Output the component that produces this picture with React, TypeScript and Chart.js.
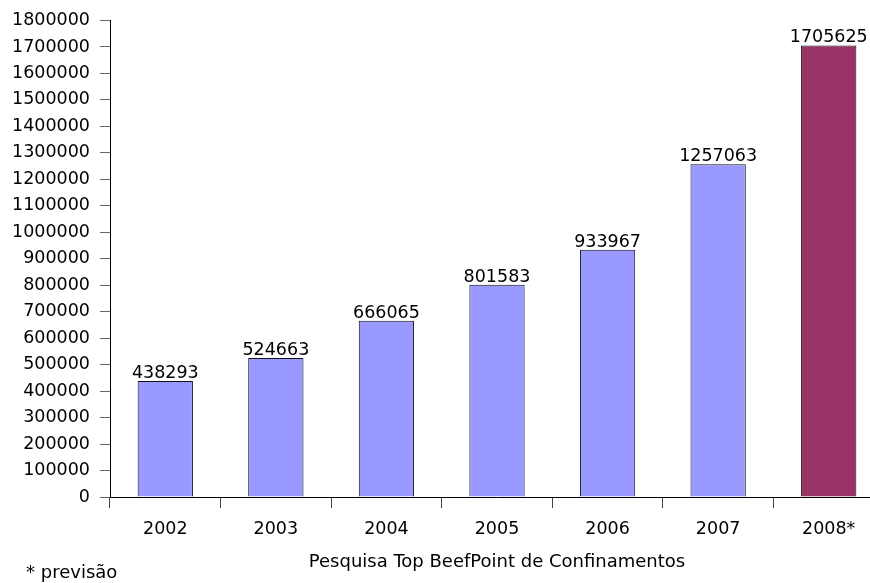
import React, { useEffect, useRef } from "react";
import { Chart, registerables } from "chart.js";

Chart.register(...registerables);

const years = ["2002", "2003", "2004", "2005", "2006", "2007", "2008*"];
const animals = [438293, 524663, 666065, 801583, 933967, 1257063, 1705625];
const barColors = ["#9999FF", "#9999FF", "#9999FF", "#9999FF", "#9999FF", "#9999FF", "#993366"];
const axisTitle = "Pesquisa Top BeefPoint de Confinamentos";
const footnote = "* previsão";

const FONT = "'DejaVu Sans', Verdana, sans-serif";
const TICK_SIZE = 17.5;
const TEXT_SIZE = 18;

// Writes each bar's value just above it, plus the footnote at the bottom-left.
const labelsPlugin = {
  id: "barLabels",
  afterDatasetsDraw(chart: any) {
    const ctx = chart.ctx;
    const meta = chart.getDatasetMeta(0);
    ctx.save();
    ctx.font = `${TICK_SIZE}px ${FONT}`;
    ctx.fillStyle = "#000";
    ctx.textAlign = "center";
    ctx.textBaseline = "alphabetic";
    meta.data.forEach((bar: any, i: number) => {
      ctx.fillText(String(animals[i]), bar.x, bar.y - 3);
    });
    ctx.font = `${TEXT_SIZE}px ${FONT}`;
    ctx.textAlign = "left";
    ctx.textBaseline = "middle";
    ctx.fillText(footnote, 26, 573);
    ctx.restore();
  },
};

export default function App() {
  const canvasRef = useRef<HTMLCanvasElement>(null);

  useEffect(() => {
    if (!canvasRef.current) return;
    const chart = new Chart(canvasRef.current, {
      type: "bar",
      data: {
        labels: years,
        datasets: [
          {
            data: animals,
            backgroundColor: barColors,
            borderColor: "#111",
            borderWidth: 1,
            barPercentage: 0.5,
            categoryPercentage: 1,
          },
        ],
      },
      options: {
        responsive: false,
        animation: false,
        layout: { padding: { top: 16, right: 0, left: 0, bottom: 0 } },
        plugins: {
          legend: { display: false },
          tooltip: { enabled: false },
        },
        scales: {
          x: {
            offset: true,
            afterFit: (scale: any) => {
              scale.height = 86;
            },
            grid: {
              offset: true,
              drawOnChartArea: false,
              drawTicks: true,
              tickLength: 11,
              color: "#444",
            },
            border: { color: "#000", width: 1 },
            ticks: {
              color: "#000",
              font: { family: FONT, size: TICK_SIZE },
              padding: 11,
              maxRotation: 0,
            },
            title: {
              display: true,
              text: axisTitle,
              color: "#000",
              font: { family: FONT, size: TEXT_SIZE },
              padding: { top: 8, bottom: 10 },
            },
          },
          y: {
            min: 0,
            max: 1800000,
            afterFit: (scale: any) => {
              scale.width = 110;
            },
            grid: {
              drawOnChartArea: false,
              drawTicks: true,
              tickLength: 10,
              color: "#666",
            },
            border: { color: "#000", width: 1 },
            ticks: {
              stepSize: 100000,
              color: "#000",
              font: { family: FONT, size: TICK_SIZE },
              padding: 10,
              callback: (v: any) => String(v),
            },
          },
        },
      },
      plugins: [labelsPlugin],
    });
    return () => chart.destroy();
  }, []);

  return (
    <div
      style={{
        position: "absolute",
        left: 0,
        top: 0,
        width: 870,
        height: 583,
        overflow: "hidden",
        background: "#fff",
      }}
    >
      <canvas ref={canvasRef} width={884} height={583} style={{ display: "block" }} />
    </div>
  );
}
